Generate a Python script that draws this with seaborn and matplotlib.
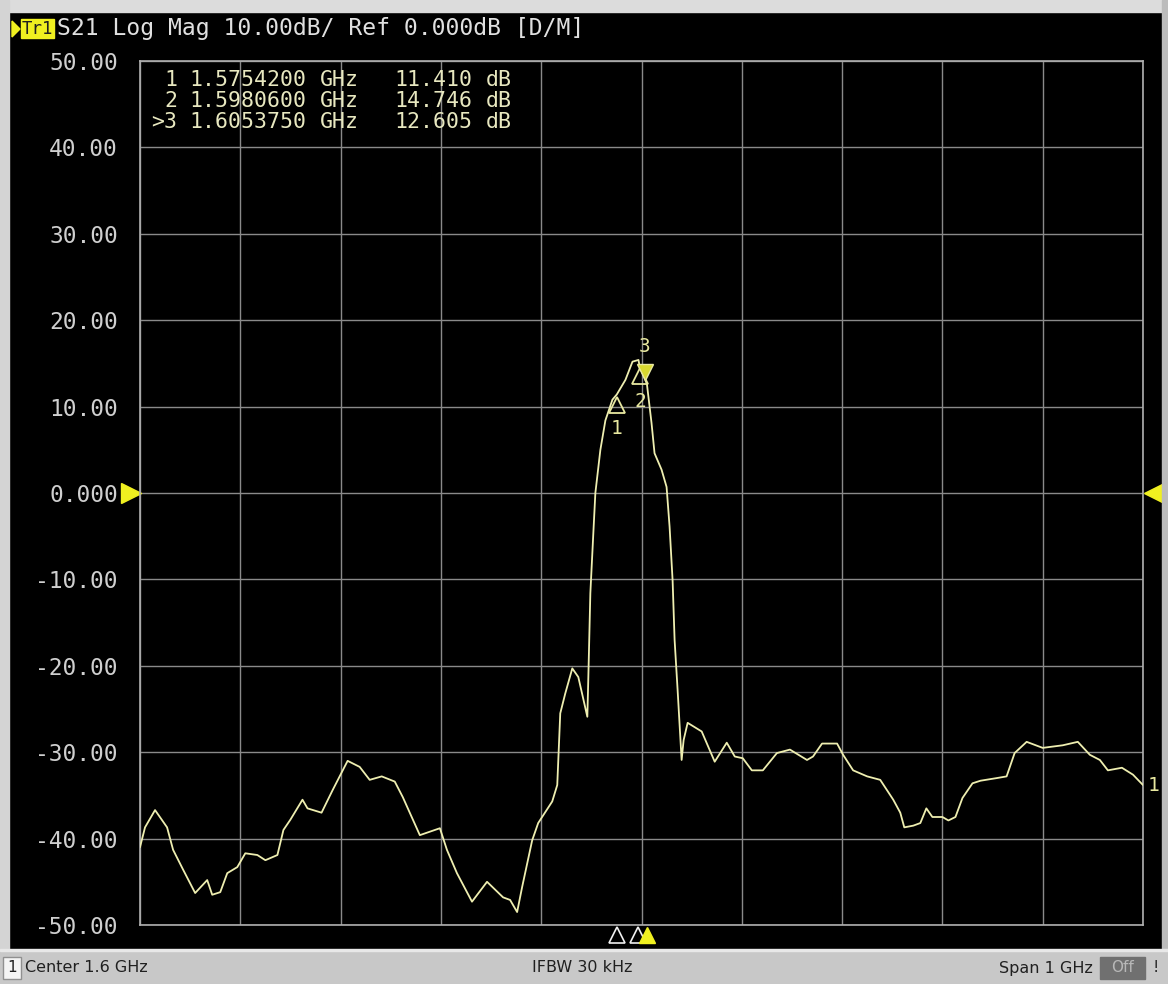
import numpy as np
import pandas as pd
import matplotlib
matplotlib.use("Agg")
import matplotlib.pyplot as plt
import matplotlib.transforms as mtransforms
from matplotlib.patches import Rectangle, Polygon
import seaborn as sns

# ---------------- data ----------------
freq_ghz = [1.100, 1.105, 1.115, 1.127, 1.133, 1.143, 1.155, 1.167, 1.172, 1.180,
            1.187, 1.197, 1.205, 1.217, 1.225, 1.237, 1.243, 1.250, 1.262, 1.267,
            1.281, 1.292, 1.307, 1.319, 1.329, 1.341, 1.354, 1.362, 1.379, 1.399,
            1.406, 1.416, 1.431, 1.446, 1.462, 1.469, 1.476, 1.481, 1.491, 1.497,
            1.511, 1.516, 1.519, 1.524, 1.531, 1.537, 1.546, 1.547, 1.549, 1.552,
            1.554, 1.559, 1.564, 1.571, 1.5754, 1.584, 1.591, 1.597, 1.598, 1.6054,
            1.610, 1.613, 1.620, 1.625, 1.628, 1.631, 1.633, 1.636, 1.640, 1.642,
            1.646, 1.660, 1.673, 1.685, 1.693, 1.701, 1.710, 1.721, 1.735, 1.748,
            1.765, 1.771, 1.780, 1.795, 1.801, 1.811, 1.825, 1.838, 1.851, 1.858,
            1.862, 1.871, 1.878, 1.884, 1.890, 1.900, 1.906, 1.913, 1.920, 1.930,
            1.938, 1.954, 1.964, 1.972, 1.984, 2.000, 2.020, 2.035, 2.047, 2.057,
            2.065, 2.079, 2.090, 2.100]
s21_db = [-41.0, -38.7, -36.7, -38.7, -41.3, -43.6, -46.3, -44.8, -46.5, -46.2,
          -44.0, -43.3, -41.7, -41.9, -42.5, -41.9, -39.0, -37.8, -35.5, -36.5,
          -37.0, -34.4, -31.0, -31.7, -33.2, -32.8, -33.4, -35.2, -39.6, -38.8,
          -41.3, -44.0, -47.3, -45.0, -46.8, -47.1, -48.5, -45.6, -40.2, -38.2,
          -35.7, -33.8, -25.5, -23.2, -20.3, -21.3, -25.9, -21.3, -11.6, -4.6,
          0.0, 5.0, 8.4, 10.8, 11.41, 13.1, 15.2, 15.4, 14.746, 12.605,
          8.1, 4.6, 2.7, 0.7, -3.9, -10.1, -17.0, -22.8, -30.9, -28.6,
          -26.6, -27.6, -31.1, -28.9, -30.5, -30.7, -32.1, -32.1, -30.1, -29.7,
          -30.9, -30.5, -29.0, -29.0, -30.3, -32.1, -32.8, -33.2, -35.5, -37.0,
          -38.7, -38.5, -38.2, -36.5, -37.5, -37.5, -37.9, -37.5, -35.3, -33.6,
          -33.3, -33.0, -32.8, -30.1, -28.8, -29.5, -29.2, -28.8, -30.3, -30.9,
          -32.1, -31.8, -32.6, -33.8]

marker_ids = ["1", "2", ">3"]
marker_freq = [1.5754200, 1.5980600, 1.6053750]
marker_db = [11.410, 14.746, 12.605]

ytick_vals = [50, 40, 30, 20, 10, 0, -10, -20, -30, -40, -50]
ytick_labels = ["50.00", "40.00", "30.00", "20.00", "10.00", "0.000",
                "-10.00", "-20.00", "-30.00", "-40.00", "-50.00"]

header_text = "S21 Log Mag 10.00dB/ Ref 0.000dB [D/M]"
status_left = "Center 1.6 GHz"
status_mid = "IFBW 30 kHz"
status_right = "Span 1 GHz"

# ---------------- figure ----------------
W, H = 1168, 984
sns.set_style("dark")
plt.rcParams['font.family'] = ['DejaVu Sans Mono', 'DejaVu Sans']

fig = plt.figure(figsize=(W / 100, H / 100), dpi=100)
fig.patch.set_facecolor("black")

def fx(x):
    return x / W

def fy(y):
    return 1 - y / H

# outer frame pieces
fig.patches.append(Rectangle((0, fy(12)), 1, 12 / H, transform=fig.transFigure,
                             color="#dcdcdc", zorder=0))
fig.patches.append(Rectangle((0, 0), fx(9), 1, transform=fig.transFigure,
                             color="#d4d4d4", zorder=0))
fig.patches.append(Rectangle((fx(1162), 0), 6 / W, 1, transform=fig.transFigure,
                             color="#bcbcbc", zorder=0))
fig.patches.append(Rectangle((0, 0), 1, 34 / H, transform=fig.transFigure,
                             color="#c8c8c8", zorder=0))
fig.patches.append(Rectangle((0, 33 / H), 1, 2 / H, transform=fig.transFigure,
                             color="#e8e8e8", zorder=0))

L, R, T, B = 140, 1143, 61, 925
ax = fig.add_axes([fx(L), fy(B), (R - L) / W, (B - T) / H])
ax.set_facecolor("black")

df = pd.DataFrame({"freq": freq_ghz, "db": s21_db})
sns.lineplot(data=df, x="freq", y="db", ax=ax, color="#eeeeb0", lw=1.3,
             zorder=3, sort=False)

ax.set_xlim(1.1, 2.1)
ax.set_ylim(-50, 50)
ax.set_xticks(np.linspace(1.1, 2.1, 11))
ax.set_xticklabels([])
ax.set_yticks(ytick_vals)
ax.set_yticklabels(ytick_labels)
ax.tick_params(axis="both", length=0)
ax.tick_params(axis="y", colors="#cfcfcf", labelsize=16.5, pad=16)
ax.grid(True, color="#8a8a8a", lw=1.0)
for s in ax.spines.values():
    s.set_color("#b0b0b0")
    s.set_linewidth(1.2)
ax.set_xlabel("")
ax.set_ylabel("")

# marker readout table
ypix = [80, 101, 122]
for mid, mf, md, yp in zip(marker_ids, marker_freq, marker_db, ypix):
    kw = dict(color="#e8e8c0", fontsize=15.5, va="center",
              transform=fig.transFigure)
    fig.text(fx(177), fy(yp), mid, ha="right", **kw)
    fig.text(fx(189), fy(yp), f"{mf:.7f}", ha="left", **kw)
    fig.text(fx(320), fy(yp), "GHz", ha="left", **kw)
    fig.text(fx(472), fy(yp), f"{md:.3f}", ha="right", **kw)
    fig.text(fx(486), fy(yp), "dB", ha="left", **kw)

# markers on trace
ax.plot(marker_freq[0], marker_db[0] - 1.2, marker="^", ms=11, mfc="none",
        mec="#e8e8a0", mew=1.3, zorder=4)
ax.text(marker_freq[0], marker_db[0] - 4.0, "1", color="#e8e8a0", fontsize=14,
        ha="center", va="center", zorder=4)
ax.plot(marker_freq[1], marker_db[1] - 1.2, marker="^", ms=11, mfc="none",
        mec="#e8e8a0", mew=1.3, zorder=4)
ax.text(marker_freq[1] + 0.001, marker_db[1] - 4.2, "2", color="#e8e8a0",
        fontsize=14, ha="center", va="center", zorder=4)
ax.plot(marker_freq[2] - 0.002, marker_db[2] + 1.4, marker="v", ms=11,
        mfc="#d8d830", mec="#e8e8a0", mew=1.0, zorder=4)
ax.text(marker_freq[2] - 0.002, marker_db[2] + 4.3, "3", color="#e8e8a0",
        fontsize=14, ha="center", va="center", zorder=4)

# trace-end label
ax.text(1.0045, -33.9, "1", color="#e8e8a0", fontsize=14, ha="left",
        va="center", transform=mtransforms.blended_transform_factory(
            ax.transAxes, ax.transData), clip_on=False)

# triangles under the axis (marker positions)
bt = mtransforms.blended_transform_factory(ax.transData, ax.transAxes)
ax.plot([marker_freq[0], marker_freq[1] - 0.002], [-0.012, -0.012],
        ls="none", marker="^", ms=12, mfc="none", mec="#f0f0f0", mew=1.2,
        transform=bt, clip_on=False)
ax.plot([marker_freq[2]], [-0.012], ls="none", marker="^", ms=12,
        mfc="#f0f020", mec="#f0f020", transform=bt, clip_on=False)

# reference level arrows
lt = mtransforms.blended_transform_factory(ax.transAxes, ax.transData)
ax.plot([-0.009], [0], marker=">", ms=14, color="#f0f020", transform=lt,
        clip_on=False, ls="none")
ax.plot([1.011], [0], marker="<", ms=14, color="#f0f020", transform=lt,
        clip_on=False, ls="none")

# header
fig.patches.append(Polygon([[fx(12), fy(21)], [fx(12), fy(37)], [fx(20), fy(29)]],
                           closed=True, transform=fig.transFigure,
                           color="#f0f020", zorder=1))
fig.patches.append(Rectangle((fx(21), fy(38)), 33 / W, 19 / H,
                             transform=fig.transFigure, color="#f0f020",
                             zorder=1))
fig.text(fx(37.5), fy(29), "Tr1", color="#202020", fontsize=12.5, ha="center",
         va="center", zorder=2)
fig.text(fx(57), fy(29), header_text, color="#e0e0e0", fontsize=16.6,
         ha="left", va="center")

# status bar
sb_y = fy(968)
fig.text(fx(12), sb_y, "1", color="#202020", fontsize=11, ha="center",
         va="center", family="DejaVu Sans",
         bbox=dict(boxstyle="square,pad=0.25", fc="#f4f4f4", ec="#909090"))
fig.text(fx(25), sb_y, status_left, color="#202020", fontsize=11.5,
         ha="left", va="center", family="DejaVu Sans")
fig.text(fx(582), sb_y, status_mid, color="#202020", fontsize=11.5,
         ha="center", va="center", family="DejaVu Sans")
fig.text(fx(1093), sb_y, status_right, color="#202020", fontsize=11.5,
         ha="right", va="center", family="DejaVu Sans")
fig.patches.append(Rectangle((fx(1100), fy(979)), 45 / W, 22 / H,
                             transform=fig.transFigure, color="#707070",
                             zorder=1))
fig.text(fx(1122), sb_y, "Off", color="#b8b8b8", fontsize=11, ha="center",
         va="center", family="DejaVu Sans", zorder=2)
fig.text(fx(1156), sb_y, "!", color="#202020", fontsize=11.5, ha="center",
         va="center", family="DejaVu Sans")

fig.savefig("out.png", dpi=100, facecolor=fig.get_facecolor())
